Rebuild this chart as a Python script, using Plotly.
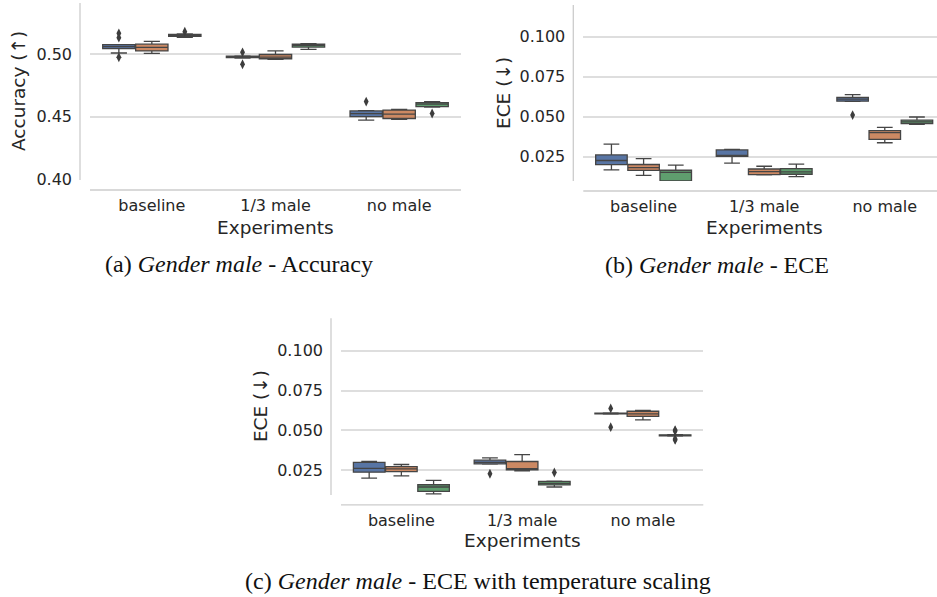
import plotly.graph_objects as go

W, H = 937, 597

categories = ["baseline", "1/3 male", "no male"]
hue_colors = ["#5875A4", "#CC8963", "#5F9E6E"]

# Panel (a) Accuracy  -- outer index: hue (blue, orange, green), inner: category
acc_q1 = [[0.5042, 0.4972, 0.4500], [0.5024, 0.4962, 0.4485], [0.5140, 0.5055, 0.4580]]
acc_med = [[0.5058, 0.4978, 0.4524], [0.5053, 0.4975, 0.4520], [0.5150, 0.5068, 0.4600]]
acc_q3 = [[0.5074, 0.4982, 0.4545], [0.5078, 0.4996, 0.4552], [0.5157, 0.5078, 0.4612]]
acc_lo = [[0.5008, 0.4968, 0.4472], [0.5005, 0.4958, 0.4478], [0.5133, 0.5037, 0.4575]]
acc_hi = [[0.5074, 0.4985, 0.4547], [0.5101, 0.5024, 0.4558], [0.5160, 0.5082, 0.4620]]
acc_out = [[[0.4974, 0.5130, 0.5165], [0.4918, 0.5013], [0.4620]],
           [[], [], []],
           [[0.5178], [], [0.4525]]]
acc_ticks = [0.40, 0.45, 0.50]

# Panel (b) ECE
ece_q1 = [[0.0200, 0.0252, 0.0597], [0.0164, 0.0138, 0.0358], [0.0098, 0.0140, 0.0457]]
ece_med = [[0.0226, 0.0256, 0.0610], [0.0181, 0.0157, 0.0400], [0.0152, 0.0155, 0.0468]]
ece_q3 = [[0.0261, 0.0292, 0.0621], [0.0201, 0.0173, 0.0413], [0.0165, 0.0175, 0.0478]]
ece_lo = [[0.0167, 0.0210, 0.0596], [0.0133, 0.0136, 0.0337], [0.0097, 0.0125, 0.0452]]
ece_hi = [[0.0328, 0.0296, 0.0638], [0.0238, 0.0190, 0.0433], [0.0197, 0.0204, 0.0498]]
ece_out = [[[], [], [0.0510]], [[], [], []], [[], [], []]]

# Panel (c) ECE with temperature scaling
ts_q1 = [[0.0238, 0.0290, 0.0603], [0.0242, 0.0252, 0.0588], [0.0118, 0.0158, 0.0466]]
ts_med = [[0.0262, 0.0300, 0.0606], [0.0258, 0.0260, 0.0603], [0.0145, 0.0168, 0.0469]]
ts_q3 = [[0.0299, 0.0313, 0.0608], [0.0273, 0.0305, 0.0620], [0.0159, 0.0180, 0.0472]]
ts_lo = [[0.0200, 0.0289, 0.0602], [0.0215, 0.0246, 0.0566], [0.0102, 0.0145, 0.0464]]
ts_hi = [[0.0306, 0.0328, 0.0609], [0.0286, 0.0348, 0.0626], [0.0186, 0.0182, 0.0474]]
ts_out = [[[], [0.0228], [0.0638, 0.0520]],
          [[], [], []],
          [[], [0.0236], [0.0502, 0.0496, 0.0446, 0.0440]]]
ece_ticks = [0.025, 0.050, 0.075, 0.100]

captions = ["(a) <i>Gender male</i> - Accuracy",
            "(b) <i>Gender male</i> - ECE",
            "(c) <i>Gender male</i> - ECE with temperature scaling"]
y_titles = ["Accuracy (\u2191)", "ECE (\u2193)", "ECE (\u2193)"]
x_title = "Experiments"

TEXT = "#262626"
LINE = "#454545"
GRID = "#dedede"
SPINE = "#cccccc"
SANS = "DejaVu Sans"
SERIF = "Liberation Serif"

SY = 0.985  # vertical compensation for the page capture


def px_x(p):
    return p / W


def px_y(p):
    return 1 - (p / SY) / H


panels = [
    dict(q1=acc_q1, med=acc_med, q3=acc_q3, lo=acc_lo, hi=acc_hi, out=acc_out,
         ax="", xdom=[px_x(90), px_x(461)], ydom=[px_y(180), px_y(3)],
         xr=[-0.5, 2.5], yr=[0.3994, 0.5407], ticks=acc_ticks, fmt=".2f",
         ytitle_x=px_x(18.5), cap=(px_x(238.5), px_y(264.5)), xt_y=px_y(228)),
    dict(q1=ece_q1, med=ece_med, q3=ece_q3, lo=ece_lo, hi=ece_hi, out=ece_out,
         ax="2", xdom=[px_x(583.3), 1.0], ydom=[px_y(181), px_y(5)],
         xr=[-0.5, 2.433], yr=[0.0098, 0.1198], ticks=ece_ticks, fmt=".3f",
         ytitle_x=px_x(504), cap=(px_x(717), px_y(265)), xt_y=px_y(228)),
    dict(q1=ts_q1, med=ts_med, q3=ts_q3, lo=ts_lo, hi=ts_hi, out=ts_out,
         ax="3", xdom=[px_x(341), px_x(703.3)], ydom=[px_y(495), px_y(318.3)],
         xr=[-0.5, 2.5], yr=[0.0095, 0.1203], ticks=ece_ticks, fmt=".3f",
         ytitle_x=px_x(260.5), cap=(px_x(477.5), px_y(581)), xt_y=px_y(541)),
]

n_hue = len(hue_colors)
group_w = 0.8
box_w = group_w / n_hue
offsets = [(h - (n_hue - 1) / 2) * box_w for h in range(n_hue)]
cat_idx = list(range(len(categories)))

fig = go.Figure()
layout = dict(width=W, height=H, margin=dict(l=0, r=0, t=0, b=0),
              paper_bgcolor="white", plot_bgcolor="white", showlegend=False,
              boxmode="overlay", annotations=[], shapes=[])

for i, p in enumerate(panels):
    ax = p["ax"]
    xa, ya = "x" + ax, "y" + ax
    for h in range(n_hue):
        xs = [c + offsets[h] for c in cat_idx]
        fig.add_trace(go.Box(
            x=xs, q1=p["q1"][h], median=p["med"][h], q3=p["q3"][h],
            lowerfence=p["lo"][h], upperfence=p["hi"][h],
            width=box_w * 0.98, fillcolor=hue_colors[h],
            line=dict(color=LINE, width=1.3), whiskerwidth=0.5,
            boxpoints=False, xaxis=xa, yaxis=ya, hoverinfo="skip"))
        ox, oy = [], []
        for c in cat_idx:
            for v in p["out"][h][c]:
                ox.append(xs[c])
                oy.append(v)
        if ox:
            fig.add_trace(go.Scatter(
                x=ox, y=oy, mode="markers", xaxis=xa, yaxis=ya,
                marker=dict(symbol="diamond-tall", size=7, color="#3d3d3d"),
                hoverinfo="skip"))

    layout["xaxis" + ax] = dict(
        domain=p["xdom"], anchor=ya, range=p["xr"], tickvals=cat_idx,
        ticktext=categories, showgrid=False, zeroline=False, showline=False,
        ticks="", ticklabelstandoff=14, tickfont=dict(family=SANS, size=16, color=TEXT))
    layout["yaxis" + ax] = dict(
        domain=p["ydom"], anchor=xa, range=p["yr"], tickvals=p["ticks"],
        tickformat=p["fmt"], showgrid=True, gridcolor=GRID, gridwidth=1.5,
        zeroline=False, showline=False, ticks="", ticklabelstandoff=17,
        tickfont=dict(family=SANS, size=16, color=TEXT))

    # offset spines (seaborn despine offset)
    layout["shapes"].append(dict(
        type="line", xref=xa + " domain", yref=ya + " domain",
        xsizemode="pixel", xanchor=0, x0=-10, x1=-10, y0=0, y1=1,
        line=dict(color=SPINE, width=1.3)))
    layout["shapes"].append(dict(
        type="line", xref=xa + " domain", yref=ya + " domain",
        ysizemode="pixel", yanchor=0, y0=-10, y1=-10, x0=0, x1=1,
        line=dict(color=SPINE, width=1.3)))

    # axis titles
    layout["annotations"].append(dict(
        text=x_title, xref=xa, x=1, yref="paper", y=p["xt_y"],
        xanchor="center", yanchor="middle", showarrow=False,
        font=dict(family=SANS, size=18.5, color=TEXT)))
    layout["annotations"].append(dict(
        text=y_titles[i], xref="paper", x=p["ytitle_x"], yref=ya + " domain", y=0.5,
        textangle=-90, xanchor="center", yanchor="middle", showarrow=False,
        font=dict(family=SANS, size=18.5, color=TEXT)))
    # caption
    layout["annotations"].append(dict(
        text=captions[i], xref="paper", x=p["cap"][0], yref="paper", y=p["cap"][1],
        xanchor="center", yanchor="middle", showarrow=False,
        font=dict(family=SERIF, size=24, color="#111111")))

fig.update_layout(**layout)
fig.write_html("out.html")
